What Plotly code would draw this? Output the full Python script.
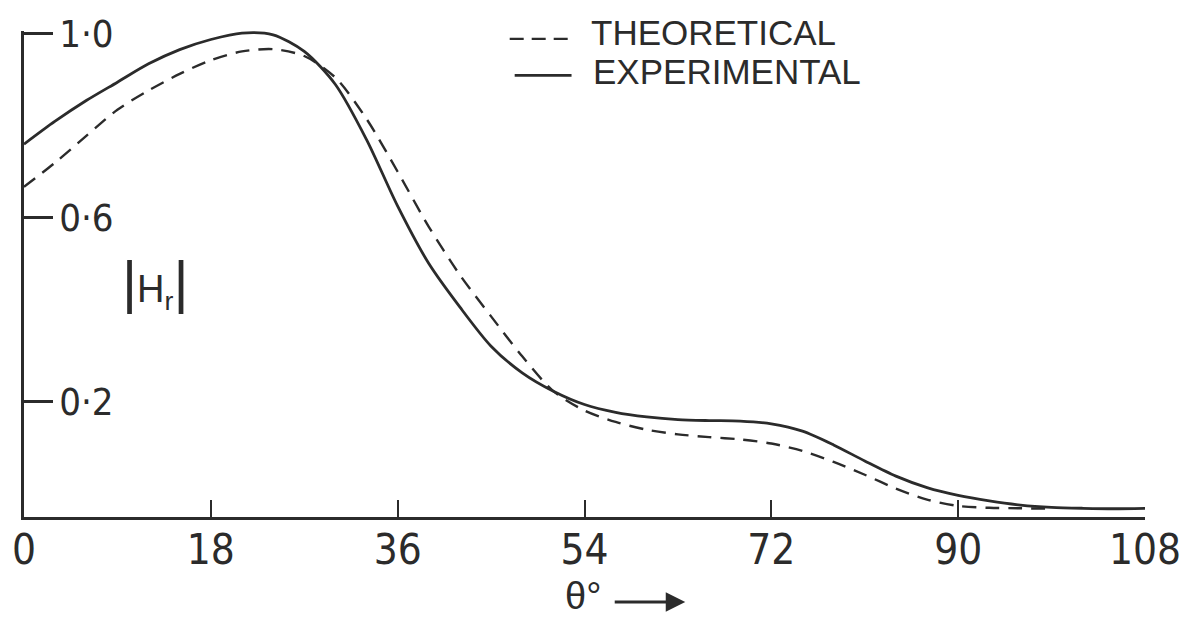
import plotly.graph_objects as go

# ---- data ----
theta_exp = [0, 3, 6, 9, 12, 15, 18, 21, 24, 27, 30, 33, 36, 39, 42, 45, 48, 51, 54,
             57, 60, 63, 66, 69, 72, 75, 78, 81, 84, 87, 90, 93, 96, 99, 102, 105, 108]
hr_exp = [0.76, 0.81, 0.855, 0.895, 0.935, 0.966, 0.988, 1.002, 0.998, 0.962, 0.89,
          0.77, 0.625, 0.50, 0.405, 0.32, 0.262, 0.222, 0.193, 0.176, 0.166, 0.16,
          0.158, 0.157, 0.151, 0.135, 0.105, 0.07, 0.037, 0.012, -0.005, -0.017,
          -0.026, -0.031, -0.033, -0.034, -0.033]

theta_th = [0, 3, 6, 9, 12, 15, 18, 21, 24, 27, 30, 33, 36, 39, 42, 45, 48, 51, 54,
            57, 60, 63, 66, 69, 72, 75, 78, 81, 84, 87, 90, 93, 96, 99]
hr_th = [0.667, 0.72, 0.778, 0.835, 0.877, 0.913, 0.943, 0.962, 0.967, 0.952, 0.905,
         0.815, 0.70, 0.58, 0.475, 0.385, 0.298, 0.222, 0.18, 0.155, 0.138, 0.128,
         0.122, 0.117, 0.108, 0.092, 0.068, 0.04, 0.01, -0.014, -0.028, -0.032,
         -0.033, -0.034]

x_ticks = [0, 18, 36, 54, 72, 90, 108]
y_ticks = [0.2, 0.6, 1.0]
y_ticktext = ["0·2", "0·6", "1·0"]
series_names = ["THEORETICAL", "EXPERIMENTAL"]

INK = "#2b2b2b"
NARROW = "Liberation Sans Narrow, DejaVu Sans Condensed, Arial Narrow, sans-serif"
SANS = "Liberation Sans, Arial, sans-serif"

# pixel layout helpers (plot area in page pixels)
L, R, T, B = 21, 1145, 25, 517
Y_TOP, Y_BOT = 1.0065, -0.052
def xp(px):
    return (px - L) / (R - L)
def yp(py):
    return (B - py) / (B - T)

fig = go.Figure()
fig.add_trace(go.Scatter(x=theta_th, y=hr_th, mode="lines", name=series_names[0],
                         line=dict(color=INK, width=2.4, dash="14px,9px",
                                   shape="spline", smoothing=0.8)))
fig.add_trace(go.Scatter(x=theta_exp, y=hr_exp, mode="lines", name=series_names[1],
                         line=dict(color=INK, width=2.8, shape="spline", smoothing=0.8)))

fig.update_layout(
    width=1195, height=621,
    margin=dict(l=L, r=1195 - R, t=T, b=621 - B),
    paper_bgcolor="white", plot_bgcolor="white",
    showlegend=False,
    xaxis=dict(range=[0, 108], tickvals=x_ticks, ticks="inside", ticklen=17,
               tickwidth=2, tickcolor=INK, showline=True, linewidth=2.5,
               linecolor=INK, showgrid=False, zeroline=False,
               tickfont=dict(family=NARROW, size=42, color=INK),
               ticklabelstandoff=-6),
    yaxis=dict(range=[Y_BOT, Y_TOP], tickvals=y_ticks, ticktext=y_ticktext,
               ticks="inside", ticklen=29, tickwidth=2.5, tickcolor=INK,
               showline=True, linewidth=2.5, linecolor=INK, showgrid=False,
               zeroline=False, ticklabelposition="inside",
               ticklabeloverflow="allow", ticklabelstandoff=11,
               tickfont=dict(family=NARROW, size=38, color=INK)),
)

# legend (line samples + labels)
fig.add_shape(type="line", xref="paper", yref="paper", x0=xp(508), x1=xp(568),
              y0=yp(33), y1=yp(33), line=dict(color=INK, width=2.4, dash="14px,8px"))
fig.add_shape(type="line", xref="paper", yref="paper", x0=xp(513), x1=xp(570),
              y0=yp(70), y1=yp(70), line=dict(color=INK, width=2.8))
fig.add_annotation(text=series_names[0], xref="paper", yref="paper", x=xp(588), y=yp(27),
                   xanchor="left", yanchor="middle", showarrow=False,
                   font=dict(family=SANS, size=35, color=INK))
fig.add_annotation(text=series_names[1], xref="paper", yref="paper", x=xp(590), y=yp(66),
                   xanchor="left", yanchor="middle", showarrow=False,
                   font=dict(family=SANS, size=35, color=INK))

# y-axis title |H_r|
fig.add_annotation(text="<span style='font-size:58px'>|</span>H<sub>r</sub><span style='font-size:58px'>|</span>",
                   xref="paper", yref="paper", x=xp(152), y=yp(280),
                   xanchor="center", yanchor="middle", showarrow=False,
                   font=dict(family=SANS, size=38, color=INK))

# x-axis title θ° with arrow
fig.add_annotation(text="θ°", xref="paper", yref="paper", x=xp(581), y=yp(597),
                   xanchor="center", yanchor="middle", showarrow=False,
                   font=dict(family=SANS, size=38, color=INK))
fig.add_annotation(text="", xref="paper", yref="paper", x=xp(684), y=yp(603),
                   ax=-72, ay=0, showarrow=True, arrowhead=2, arrowsize=1.3,
                   arrowwidth=3, arrowcolor=INK)

fig.write_html("out.html", config={"displayModeBar": False},
               post_script="document.body.style.margin='0';")
